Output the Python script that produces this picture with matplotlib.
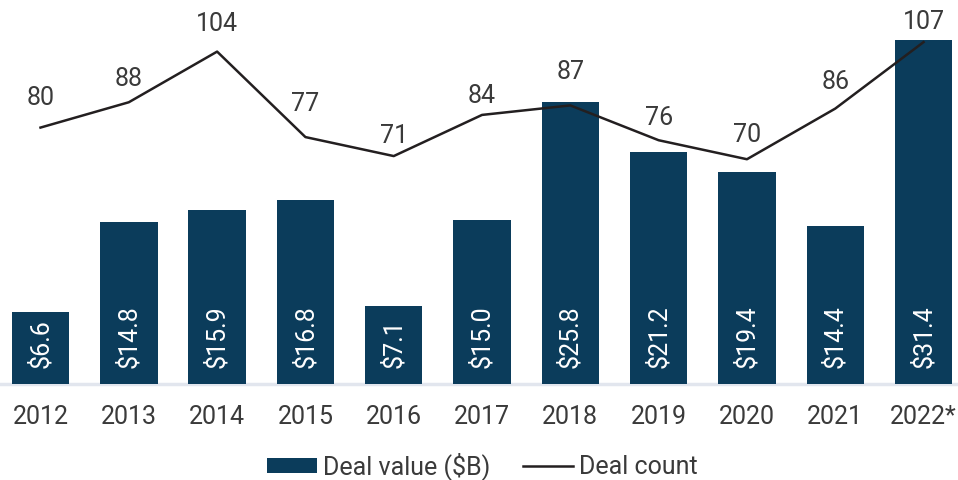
import matplotlib
matplotlib.use("Agg")
import matplotlib.pyplot as plt
from matplotlib.patches import Patch
from matplotlib.lines import Line2D

years = ["2012", "2013", "2014", "2015", "2016", "2017", "2018", "2019", "2020", "2021", "2022*"]
deal_value = [6.6, 14.8, 15.9, 16.8, 7.1, 15.0, 25.8, 21.2, 19.4, 14.4, 31.4]
deal_count = [80, 88, 104, 77, 71, 84, 87, 76, 70, 86, 107]
# vertical offsets (pixels) of count labels above their points
count_label_offsets = [30, 23, 28, 33, 20, 19, 33, 22, 24, 27, 20]

plt.rcParams['font.family'] = ['Roboto', 'DejaVu Sans']

BAR = '#0b3c5b'
TXT = '#3a3a3a'
FS = 18
W = 'normal'

fig = plt.figure(figsize=(9.58, 4.8), dpi=100)
ax = fig.add_axes([0, 0.2, 1, 0.8])
x = list(range(len(years)))
ax.bar(x, deal_value, width=0.65, color=BAR, zorder=2)
ax.set_xlim(-0.4587, 10.39)
ax.set_ylim(0, 35.1)
ax.axhline(0, xmin=0, xmax=1, color='#e2e6ee', lw=2.5, zorder=1, clip_on=False)
for s in ax.spines.values():
    s.set_visible(False)
ax.set_yticks([])
ax.set_xticks(x)
ax.set_xticklabels(years, fontsize=FS, color=TXT, fontweight=W)
ax.tick_params(axis='x', length=0, pad=15)

for xi, v in zip(x, deal_value):
    ax.annotate(f"${v:.1f}", (xi, 0), xytext=(0, 11.5), textcoords='offset points',
                rotation=90, ha='center', va='bottom', color='white', fontsize=FS,
                fontweight=W, zorder=3)

ax2 = ax.twinx()
ax2.set_ylim(-1, 120.3)
ax2.set_xlim(ax.get_xlim())
ax2.plot(x, deal_count, color='#231f20', lw=1.8, zorder=4)
for s in ax2.spines.values():
    s.set_visible(False)
ax2.set_yticks([])
for xi, v, off in zip(x, deal_count, count_label_offsets):
    ax2.annotate(str(v), (xi, v), xytext=(0, off * 0.72), textcoords='offset points',
                 ha='center', va='center', color=TXT, fontsize=FS, fontweight=W)

handles = [Patch(facecolor=BAR, edgecolor='none'), Line2D([], [], color='#231f20', lw=1.8)]
fig.legend(handles, ["Deal value ($B)", "Deal count"], loc='center',
           bbox_to_anchor=(482 / 958, 1 - 466 / 480), ncol=2, frameon=False,
           prop={'size': FS, 'weight': W}, handlelength=2.0, handleheight=0.55,
           handletextpad=0.25, columnspacing=1.3, labelcolor=TXT)

fig.savefig("out.png", dpi=100)
